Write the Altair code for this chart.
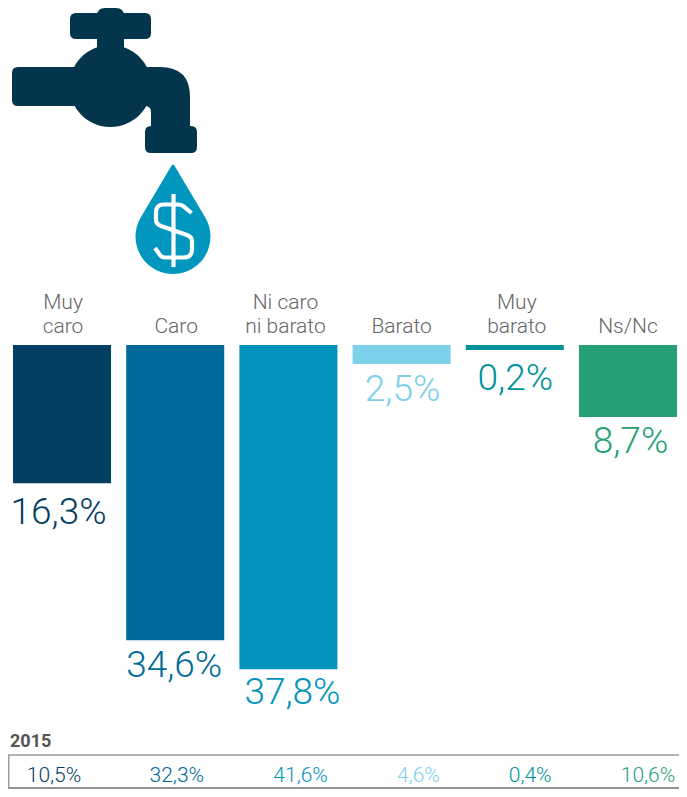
import altair as alt
import pandas as pd

categories = ["Muy caro", "Caro", "Ni caro ni barato", "Barato", "Muy barato", "Ns/Nc"]
header_line1 = ["Muy", "", "Ni caro", "", "Muy", ""]
header_line2 = ["caro", "Caro", "ni barato", "Barato", "barato", "Ns/Nc"]
value_labels = ["16,3%", "34,6%", "37,8%", "2,5%", "0,2%", "8,7%"]
# bar lengths as drawn in the picture, in percentage points
bar_lengths = [16.2, 34.6, 38.0, 2.23, 0.59, 8.44]
labels_2015 = ["10,5%", "32,3%", "41,6%", "4,6%", "0,4%", "10,6%"]
colors = ["#023f63", "#006b9a", "#0094bc", "#7dd0ea", "#00929b", "#25a076"]

FONT = "Roboto"
W, H = 671, 781
label_dy = [41, 37, 35, 37, 40, 36]
label_dx = [-3.5, -1, 4, 1, 0.5, 2.5]
head_dx = [1, 1, -3, 0, 2, 0]
row_dx = [0, 4, 9, 8, 1, 0]

df = pd.DataFrame({
    "cat": categories, "h1": header_line1, "h2": header_line2, "label": value_labels,
    "len": bar_lengths, "y0": [0] * 6, "l15": labels_2015,
})

xscale = alt.Scale(type="band", domain=categories, range=[5, 669], paddingInner=0.134, paddingOuter=0)
xenc = alt.X("cat:N", scale=xscale, axis=None, sort=categories)
yscale = alt.Scale(domain=[0, 40], range=[337, 337 + 40 * 8.53])
colorenc = alt.Color("cat:N", scale=alt.Scale(domain=categories, range=colors), legend=None)

bars = alt.Chart(df).mark_bar(cornerRadius=0).encode(
    x=xenc,
    y=alt.Y("y0:Q", scale=yscale, axis=None),
    y2="len:Q",
    color=colorenc,
)

heads = []
for i in range(6):
    for field, ypos in (("h1", 301), ("h2", 325)):
        if df.iloc[i][field]:
            heads.append(
                alt.Chart(df.iloc[[i]]).mark_text(
                    font=FONT, fontSize=21, fontWeight=300, color="#666666",
                    baseline="alphabetic", align="center", dx=head_dx[i],
                ).encode(x=xenc, y=alt.value(ypos), text=f"{field}:N")
            )

values = []
for i in range(6):
    values.append(
        alt.Chart(df.iloc[[i]]).mark_text(
            font=FONT, fontSize=37, fontWeight=300, baseline="alphabetic",
            align="center", dy=label_dy[i], dx=label_dx[i],
        ).encode(
            x=xenc,
            y=alt.Y("len:Q", scale=yscale, axis=None),
            text="label:N",
            color=colorenc,
        )
    )


def rrect(x0, y0, x1, y1, r):
    return (f"M{x0+r} {y0}L{x1-r} {y0}Q{x1} {y0} {x1} {y0+r}L{x1} {y1-r}Q{x1} {y1} {x1-r} {y1}"
            f"L{x0+r} {y1}Q{x0} {y1} {x0} {y1-r}L{x0} {y0+r}Q{x0} {y0} {x0+r} {y0}Z")


faucet_path = " ".join([
    rrect(70, 13, 151, 39, 6),
    rrect(97, 8, 124, 60, 8),
    rrect(12, 67, 90, 106, 6),
    "M69.5 86A41 41 0 1 1 151.5 86A41 41 0 1 1 69.5 86Z",
    "M110 67L160 67Q190 67 190 97L190 130L151 130L151 112Q151 106 145 106L110 106Z",
    rrect(145, 126, 197, 153, 6),
])
drop_path = "M171.3 166Q173 163 174.7 166L205 217A37.5 37.5 0 1 1 141 217Z"
dollar_path = ("M173.5 194L173.5 267 "
               "M191.5 213L183 206Q181 204.5 178 204.5L164 204.5Q156 204.5 156 212L156 220"
               "Q156 224 161 226L187 235Q192 237 192 241L192 249Q192 257.5 184 257.5"
               "L165 257.5Q162 257.5 160 255L155 248")

one = pd.DataFrame({"a": [0]})


def icon(path, **kw):
    return alt.Chart(one).mark_point(shape=path, opacity=1, **kw).encode(
        x=alt.value(-8), y=alt.value(-8), size=alt.value(4)
    )


faucet = icon(faucet_path, filled=True, fill="#03364d", strokeWidth=0)
drop = icon(drop_path, filled=True, fill="#0096bd", strokeWidth=0)
dollar = icon(dollar_path, filled=False, stroke="#ffffff", strokeWidth=4.2)

title_2015 = alt.Chart(pd.DataFrame({"t": ["2015"]})).mark_text(
    font=FONT, fontSize=18, fontWeight=700, color="#555555", align="left", baseline="alphabetic",
).encode(x=alt.value(2), y=alt.value(739), text="t:N")

top_rule = alt.Chart(one).mark_rule(color="#9b9b9b", strokeWidth=1.5).encode(
    x=alt.value(0), x2=alt.value(W), y=alt.value(747))
bottom_rule = alt.Chart(one).mark_rule(color="#6e6e6e", strokeWidth=1.5).encode(
    x=alt.value(0), x2=alt.value(W), y=alt.value(H - 1))
left_rule = alt.Chart(one).mark_rule(color="#9b9b9b", strokeWidth=1.5).encode(
    x=alt.value(0.7), y=alt.value(747), y2=alt.value(H - 1))

rowscale = alt.Scale(type="point", padding=0, domain=categories, range=[46, 640])
row15 = []
for i in range(6):
    row15.append(
        alt.Chart(df.iloc[[i]]).mark_text(
            font=FONT, fontSize=21, fontWeight=300, baseline="alphabetic", align="center",
            dx=row_dx[i],
        ).encode(
            x=alt.X("cat:N", scale=rowscale, axis=None, sort=categories),
            y=alt.value(774),
            text="l15:N",
            color=colorenc,
        )
    )

chart = alt.layer(
    faucet, drop, dollar, bars, *heads, *values, title_2015,
    top_rule, bottom_rule, left_rule, *row15,
).resolve_scale(x="independent").properties(
    width=W, height=H, padding=0, autosize=alt.AutoSizeParams(type="none"),
).configure_view(stroke=None)

chart.save("out.html", embed_options={"renderer": "svg", "actions": False})
